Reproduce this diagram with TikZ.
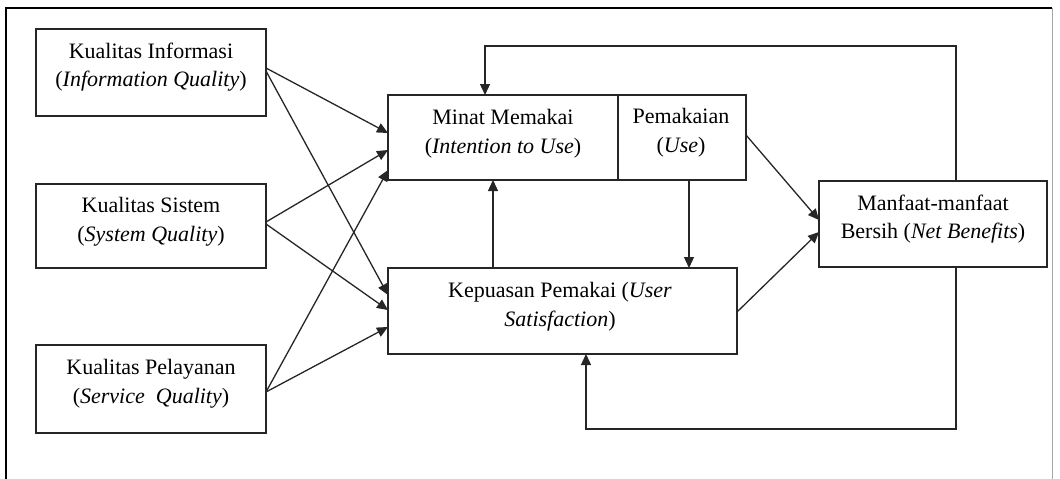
\documentclass[tikz,border=0pt]{standalone}
\usepackage{fontspec}
\setmainfont{Liberation Serif}
\usetikzlibrary{arrows.meta}
\begin{document}
\begin{tikzpicture}[x=1pt,y=-1pt,
  box/.style={draw=black!85, line width=1.3pt, inner sep=0pt, outer sep=0pt, fill=none},
  txt/.style={font=\fontsize{22}{28.5}\selectfont, align=center, inner sep=0pt, anchor=base},
  arr/.style={draw=black!85, line width=1.3pt, -{Triangle[length=11pt,width=10pt]}}]
\useasboundingbox (0,0) rectangle (1060,479);
% outer frame
\draw[line width=2.2pt] (6,479) -- (6,8) -- (1052,8);
\draw[black!35, line width=0.8pt] (1052,8) -- (1052,479);
% boxes
\node[box, minimum width=230pt, minimum height=87pt] (ki) at (151,72.5) {};
\node[box, minimum width=230pt, minimum height=84pt] (ks) at (151,226) {};
\node[box, minimum width=230pt, minimum height=88pt] (kp) at (151,389) {};
\node[box, minimum width=230pt, minimum height=85pt] (minat) at (503,137.5) {};
\node[box, minimum width=128pt, minimum height=85pt] (use) at (682,137.5) {};
\node[box, minimum width=349pt, minimum height=86pt] (kpu) at (562.5,311) {};
\node[box, minimum width=228pt, minimum height=86pt] (nb) at (933,224) {};
% texts (base anchor = baseline of the last line)
\node[txt] (tki) at (151,86.5) {Kualitas Informasi\\(\textit{Information Quality})};
\node[txt] (tks) at (151,241) {Kualitas Sistem\\(\textit{System Quality})};
\node[txt] (tkp) at (151,403) {Kualitas Pelayanan\\(\textit{Service\ \ Quality})};
\node[txt] (tminat) at (503,153) {Minat Memakai\\(\textit{Intention to Use})};
\node[txt] (tuse) at (681,152) {Pemakaian\\(\textit{Use})};
\node[txt] (tkpu) at (560,326) {Kepuasan Pemakai (\textit{User}\\\textit{Satisfaction})};
\node[txt] (tnb) at (933,238.5) {Manfaat-manfaat\\Bersih (\textit{Net Benefits})};
% left connectors
\draw[arr] (ki.east |- 0,68) -- (minat.west |- 0,133);
\draw[arr] (ki.east |- 0,71) -- (kpu.west |- 0,295);
\draw[arr] (ks.east |- 0,222) -- (minat.west |- 0,150);
\draw[arr] (ks.east |- 0,224) -- (kpu.west |- 0,310);
\draw[arr] (kp.east |- 0,392) -- (minat.west |- 0,170);
\draw[arr] (kp.east |- 0,392) -- (kpu.west |- 0,327);
% middle connectors
\draw[arr] (kpu.north -| 493,0) -- (minat.south -| 493,0);
\draw[arr] (use.south -| 689,0) -- (kpu.north -| 689,0);
\draw[arr] (use.east |- 0,135) -- (nb.west |- 0,220);
\draw[arr] (kpu.east |- 0,312) -- (nb.west |- 0,232);
% feedback loops
\draw[arr] (nb.north -| 956,0) -- (956,46) -- (485,46) -- (minat.north -| 485,0);
\draw[arr] (nb.south -| 956,0) -- (956,429) -- (586,429) -- (kpu.south -| 586,0);
\end{tikzpicture}
\end{document}
